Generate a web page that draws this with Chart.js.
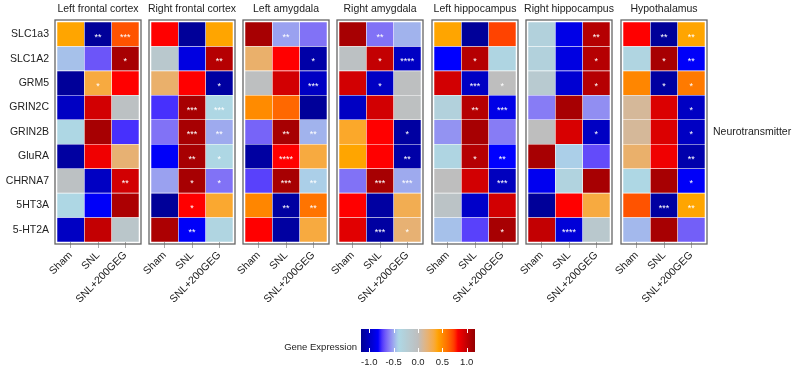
<!DOCTYPE html>
<html>
<head>
<meta charset="utf-8">
<script src="https://cdn.jsdelivr.net/npm/chart.js@4.4.1/dist/chart.umd.min.js"></script>
<style>
  body { margin: 0; background: #fff; overflow: hidden; }
  #wrap { position: relative; width: 796px; height: 371px; }
  #wrap canvas { position: absolute; }
</style>
</head>
<body>
<div id="wrap"></div>
<script>
const panelTitles = ['Left frontal cortex', 'Right frontal cortex', 'Left amygdala', 'Right amygdala',
                     'Left hippocampus', 'Right hippocampus', 'Hypothalamus'];
const genes = ['SLC1a3', 'SLC1A2', 'GRM5', 'GRIN2C', 'GRIN2B', 'GluRA', 'CHRNA7', '5HT3A', '5-HT2A'];
const groups = ['Sham', 'SNL', 'SNL+200GEG'];
const colorTicks = [-1, -0.5, 0, 0.5, 1];

// values per panel, one row per gene: [Sham, SNL, SNL+200GEG]
const leftFrontal = [
  [0.4, -1.15, 0.68], [-0.45, -0.68, 1.1], [-1.15, 0.32, 0.8], [-1.0, 0.95, -0.05], [-0.38, 1.1, -0.75],
  [-1.12, 0.85, 0.2], [-0.05, -1.0, 0.95], [-0.38, -0.82, 1.08], [-1.0, 1.0, -0.12]
];
const rightFrontal = [
  [0.8, -1.15, 0.4], [-0.15, -0.9, 1.05], [0.22, 0.8, -1.12], [-0.75, 1.1, -0.38], [-0.62, 1.1, -0.5],
  [-0.82, 1.1, -0.38], [-0.52, 1.1, -0.62], [-1.15, 0.8, 0.35], [1.08, -0.82, -0.35]
];
const leftAmygdala = [
  [1.1, -0.52, -0.62], [0.22, 0.8, -1.1], [-0.02, 0.95, -1.0], [0.5, 0.62, -1.15], [-0.65, 1.1, -0.48],
  [-1.12, 0.8, 0.32], [-0.72, 1.1, -0.42], [0.52, -1.12, 0.58], [0.8, -1.12, 0.32]
];
const rightAmygdala = [
  [1.1, -0.62, -0.48], [-0.05, 1.0, -1.0], [0.95, -1.0, -0.02], [-1.0, 0.95, -0.03], [0.36, 0.8, -1.12],
  [0.4, 0.8, -1.1], [-0.62, 1.1, -0.5], [0.8, -1.12, 0.28], [0.9, -1.12, 0.2]
];
const leftHippocampus = [
  [0.4, -1.15, 0.72], [-0.8, 1.05, -0.36], [0.95, -1.0, 0.0], [-0.3, 1.05, -0.88], [-0.55, 1.1, -0.6],
  [-0.36, 1.05, -0.8], [0.0, 0.95, -1.02], [-0.08, -0.98, 0.95], [-0.45, -0.72, 1.1]
];
const rightHippocampus = [
  [-0.3, -0.88, 1.05], [-0.3, -0.9, 1.05], [-0.18, -0.95, 1.05], [-0.6, 1.1, -0.56], [0.0, 0.93, -1.0],
  [1.1, -0.42, -0.7], [-0.85, -0.33, 1.1], [-1.15, 0.8, 0.32], [1.0, -0.93, -0.15]
];
const hypothalamus = [
  [0.8, -1.15, 0.4], [-0.35, 1.1, -0.82], [0.52, -1.12, 0.56], [0.1, 0.92, -1.0], [0.1, 0.92, -1.0],
  [0.22, 0.85, -1.08], [-0.38, 1.1, -0.82], [0.68, -1.12, 0.4], [-0.47, 1.1, -0.66]
];

// significance marks, same layout
const leftFrontalSig = [
  ['', '**', '***'], ['', '', '*'], ['', '*', ''], ['', '', ''], ['', '', ''],
  ['', '', ''], ['', '', '**'], ['', '', ''], ['', '', '']
];
const rightFrontalSig = [
  ['', '', ''], ['', '', '**'], ['', '', '*'], ['', '***', '***'], ['', '***', '**'],
  ['', '**', '*'], ['', '*', '*'], ['', '*', ''], ['', '**', '']
];
const leftAmygdalaSig = [
  ['', '**', ''], ['', '', '*'], ['', '', '***'], ['', '', ''], ['', '**', '**'],
  ['', '****', ''], ['', '***', '**'], ['', '**', '**'], ['', '', '']
];
const rightAmygdalaSig = [
  ['', '**', ''], ['', '*', '****'], ['', '*', ''], ['', '', ''], ['', '', '*'],
  ['', '', '**'], ['', '***', '***'], ['', '', ''], ['', '***', '*']
];
const leftHippocampusSig = [
  ['', '', ''], ['', '*', ''], ['', '***', '*'], ['', '**', '***'], ['', '', ''],
  ['', '*', '**'], ['', '', '***'], ['', '', ''], ['', '', '*']
];
const rightHippocampusSig = [
  ['', '', '**'], ['', '', '*'], ['', '', '*'], ['', '', ''], ['', '', '*'],
  ['', '', ''], ['', '', ''], ['', '', ''], ['', '****', '']
];
const hypothalamusSig = [
  ['', '**', '**'], ['', '*', '**'], ['', '*', '*'], ['', '', '*'], ['', '', '*'],
  ['', '', '**'], ['', '', '*'], ['', '***', '**'], ['', '', '']
];

const panelValues = [leftFrontal, rightFrontal, leftAmygdala, rightAmygdala, leftHippocampus, rightHippocampus, hypothalamus];
const panelSig = [leftFrontalSig, rightFrontalSig, leftAmygdalaSig, rightAmygdalaSig, leftHippocampusSig, rightHippocampusSig, hypothalamusSig];

// colour ramp (interpolated in LAB like colorRamp2)
const rampBreaks = [-1.2, -0.8, -0.4, 0, 0.4, 0.8, 1.2];
const rampColors = ['#00008B', '#0000FF', '#ADD8E6', '#BEBEBE', '#FFA500', '#FF0000', '#8B0000'];

const FONT = "'Liberation Sans', Arial, sans-serif";

function hexToLab(hex) {
  let c = [1, 3, 5].map(i => parseInt(hex.substr(i, 2), 16) / 255);
  c = c.map(v => v <= 0.04045 ? v / 12.92 : Math.pow((v + 0.055) / 1.055, 2.4));
  const X = (0.4124 * c[0] + 0.3576 * c[1] + 0.1805 * c[2]) / 0.95047;
  const Y = 0.2126 * c[0] + 0.7152 * c[1] + 0.0722 * c[2];
  const Z = (0.0193 * c[0] + 0.1192 * c[1] + 0.9505 * c[2]) / 1.08883;
  const f = t => t > 0.008856 ? Math.cbrt(t) : 7.787 * t + 16 / 116;
  return [116 * f(Y) - 16, 500 * (f(X) - f(Y)), 200 * (f(Y) - f(Z))];
}

function labToRgb(lab) {
  const fy = (lab[0] + 16) / 116, fx = lab[1] / 500 + fy, fz = fy - lab[2] / 200;
  const inv = t => t * t * t > 0.008856 ? t * t * t : (t - 16 / 116) / 7.787;
  const X = 0.95047 * inv(fx), Y = inv(fy), Z = 1.08883 * inv(fz);
  let r = 3.2406 * X - 1.5372 * Y - 0.4986 * Z;
  let g = -0.9689 * X + 1.8758 * Y + 0.0415 * Z;
  let b = 0.0557 * X - 0.2040 * Y + 1.0570 * Z;
  return [r, g, b].map(v => {
    v = v <= 0.0031308 ? 12.92 * v : 1.055 * Math.pow(v, 1 / 2.4) - 0.055;
    return Math.round(Math.min(1, Math.max(0, v)) * 255);
  });
}

const rampLab = rampColors.map(hexToLab);

function colorFor(v) {
  if (v <= rampBreaks[0]) v = rampBreaks[0];
  if (v >= rampBreaks[rampBreaks.length - 1]) v = rampBreaks[rampBreaks.length - 1];
  let i = 0;
  while (i < rampBreaks.length - 2 && v > rampBreaks[i + 1]) i++;
  const t = (v - rampBreaks[i]) / (rampBreaks[i + 1] - rampBreaks[i]);
  const a = rampLab[i], b = rampLab[i + 1];
  const rgb = labToRgb([0, 1, 2].map(k => a[k] + (b[k] - a[k]) * t));
  return 'rgb(' + rgb.join(',') + ')';
}

const framePlugin = {
  id: 'frame',
  afterDraw(chart) {
    if (!chart.options.plugins.frame) return;
    const a = chart.chartArea, ctx = chart.ctx;
    ctx.save();
    ctx.strokeStyle = '#666';
    ctx.lineWidth = 1.3;
    ctx.strokeRect(a.left - 2, a.top - 2, a.right - a.left + 4, a.bottom - a.top + 4);
    ctx.restore();
  }
};

const starPlugin = {
  id: 'stars',
  afterDatasetsDraw(chart) {
    const ctx = chart.ctx;
    ctx.save();
    ctx.fillStyle = '#fff';
    ctx.font = '9px ' + FONT;
    ctx.textAlign = 'center';
    ctx.textBaseline = 'middle';
    chart.data.datasets.forEach((ds, i) => {
      if (!ds.stars) return;
      chart.getDatasetMeta(i).data.forEach((bar, j) => {
        const s = ds.stars[j];
        if (!s) return;
        const p = bar.getProps(['x', 'y', 'base'], true);
        ctx.fillText(s, p.x, (p.y + p.base) / 2 + 3);
      });
    });
    ctx.restore();
  }
};

const wrap = document.getElementById('wrap');

function addCanvas(left, top, w, h) {
  const c = document.createElement('canvas');
  c.width = w; c.height = h;
  c.style.left = left + 'px'; c.style.top = top + 'px';
  c.style.width = w + 'px'; c.style.height = h + 'px';
  wrap.appendChild(c);
  return c;
}

const frameLefts = [55, 149, 243, 337, 432, 526, 621];
const cellW = 82, panelH = 320;

panelTitles.forEach((title, p) => {
  const chartLeft = frameLefts[p] + 2;
  // side widths kept equal so the title centres over the cells
  let side = 30;
  if (p === 0) side = 57;
  if (p === 6) side = 796 - (chartLeft + cellW);
  const canvasLeft = chartLeft - side;
  const width = side * 2 + cellW;

  const vals = panelValues[p], sig = panelSig[p];
  const datasets = [];
  for (let k = genes.length - 1; k >= 0; k--) {
    datasets.push({
      label: genes[k],
      data: groups.map(() => 1),
      backgroundColor: vals[k].map(colorFor),
      stars: sig[k],
      borderWidth: 0.6,
      borderColor: 'rgba(255,255,255,0.35)',
      borderSkipped: false,
      barPercentage: 1,
      categoryPercentage: 1
    });
  }

  const scales = {
    x: {
      stacked: true,
      grid: { display: true, drawOnChartArea: false, drawTicks: true, tickLength: 6, color: '#aaa', offset: false },
      border: { display: false },
      ticks: { font: { family: FONT, size: 10.5 }, color: '#222', minRotation: 45, maxRotation: 45, padding: 1, autoSkip: false },
      afterFit(s) { s.height = panelH - 242; }
    },
    y: {
      stacked: true, min: 0, max: 9,
      display: p === 0,
      grid: { display: false, drawTicks: false },
      border: { display: false },
      afterBuildTicks(s) { s.ticks = genes.map((g, i) => ({ value: genes.length - 0.5 - i })); },
      ticks: {
        font: { family: FONT, size: 10.5 }, color: '#222', padding: 8,
        callback: v => genes[genes.length - 1 - Math.floor(v)]
      },
      afterFit(s) { s.width = side; }
    },
    yR: {
      type: 'linear', position: 'right', min: 0, max: 9,
      display: p === 6,
      grid: { display: false, drawTicks: false },
      border: { display: false },
      afterBuildTicks(s) { s.ticks = [{ value: 4.5 }]; },
      ticks: { font: { family: FONT, size: 10.5 }, color: '#222', padding: 8, callback: () => 'Neurotransmitter' },
      afterFit(s) { s.width = side; }
    }
  };

  new Chart(addCanvas(canvasLeft, 0, width, panelH), {
    type: 'bar',
    data: { labels: groups, datasets: datasets },
    options: {
      responsive: false,
      animation: false,
      devicePixelRatio: 1,
      layout: { padding: 0 },
      scales: scales,
      plugins: {
        legend: { display: false },
        tooltip: { enabled: false },
        frame: true,
        title: {
          display: true, text: title,
          font: { family: FONT, size: 10.5, weight: 'normal' }, color: '#222',
          padding: { top: 3, bottom: 6.4 }
        }
      }
    },
    plugins: [framePlugin, starPlugin]
  });
});

// colour key
const keyTickPlugin = {
  id: 'keyTicks',
  afterDatasetsDraw(chart) {
    const ctx = chart.ctx, a = chart.chartArea, xs = chart.scales.x;
    ctx.save();
    ctx.strokeStyle = '#fff';
    ctx.lineWidth = 1;
    colorTicks.forEach(v => {
      const x = Math.round(xs.getPixelForValue(v)) + 0.5;
      ctx.beginPath();
      ctx.moveTo(x, a.top); ctx.lineTo(x, a.top + 4);
      ctx.moveTo(x, a.bottom - 4); ctx.lineTo(x, a.bottom);
      ctx.stroke();
    });
    ctx.restore();
  }
};

new Chart(addCanvas(250, 318, 235, 53), {
  type: 'bar',
  data: {
    labels: ['Gene Expression'],
    datasets: [{
      data: [[-1.17, 1.17]],
      barPercentage: 1,
      categoryPercentage: 1,
      backgroundColor(c) {
        const chart = c.chart;
        if (!chart.chartArea) return '#ccc';
        const xs = chart.scales.x;
        const x0 = xs.getPixelForValue(-1.17), x1 = xs.getPixelForValue(1.17);
        const g = chart.ctx.createLinearGradient(x0, 0, x1, 0);
        for (let i = 0; i <= 60; i++) {
          g.addColorStop(i / 60, colorFor(-1.17 + 2.34 * i / 60));
        }
        return g;
      }
    }]
  },
  options: {
    indexAxis: 'y',
    responsive: false,
    animation: false,
    devicePixelRatio: 1,
    layout: { padding: { left: 0, right: 10, top: 11, bottom: 0 } },
    scales: {
      x: {
        type: 'linear', min: -1.17, max: 1.17,
        grid: { display: false, drawTicks: false }, border: { display: false },
        afterBuildTicks(s) { s.ticks = colorTicks.map(v => ({ value: v })); },
        ticks: { font: { family: FONT, size: 9.5 }, color: '#222', padding: 5, callback: v => v.toFixed(1) },
        afterFit(s) { s.height = 19; }
      },
      y: {
        grid: { display: false, drawTicks: false }, border: { display: false },
        ticks: { font: { family: FONT, size: 9.5 }, color: '#222', padding: 4, labelOffset: 7 },
        afterFit(s) { s.width = 111; }
      }
    },
    plugins: { legend: { display: false }, tooltip: { enabled: false } }
  },
  plugins: [keyTickPlugin]
});
</script>
</body>
</html>
